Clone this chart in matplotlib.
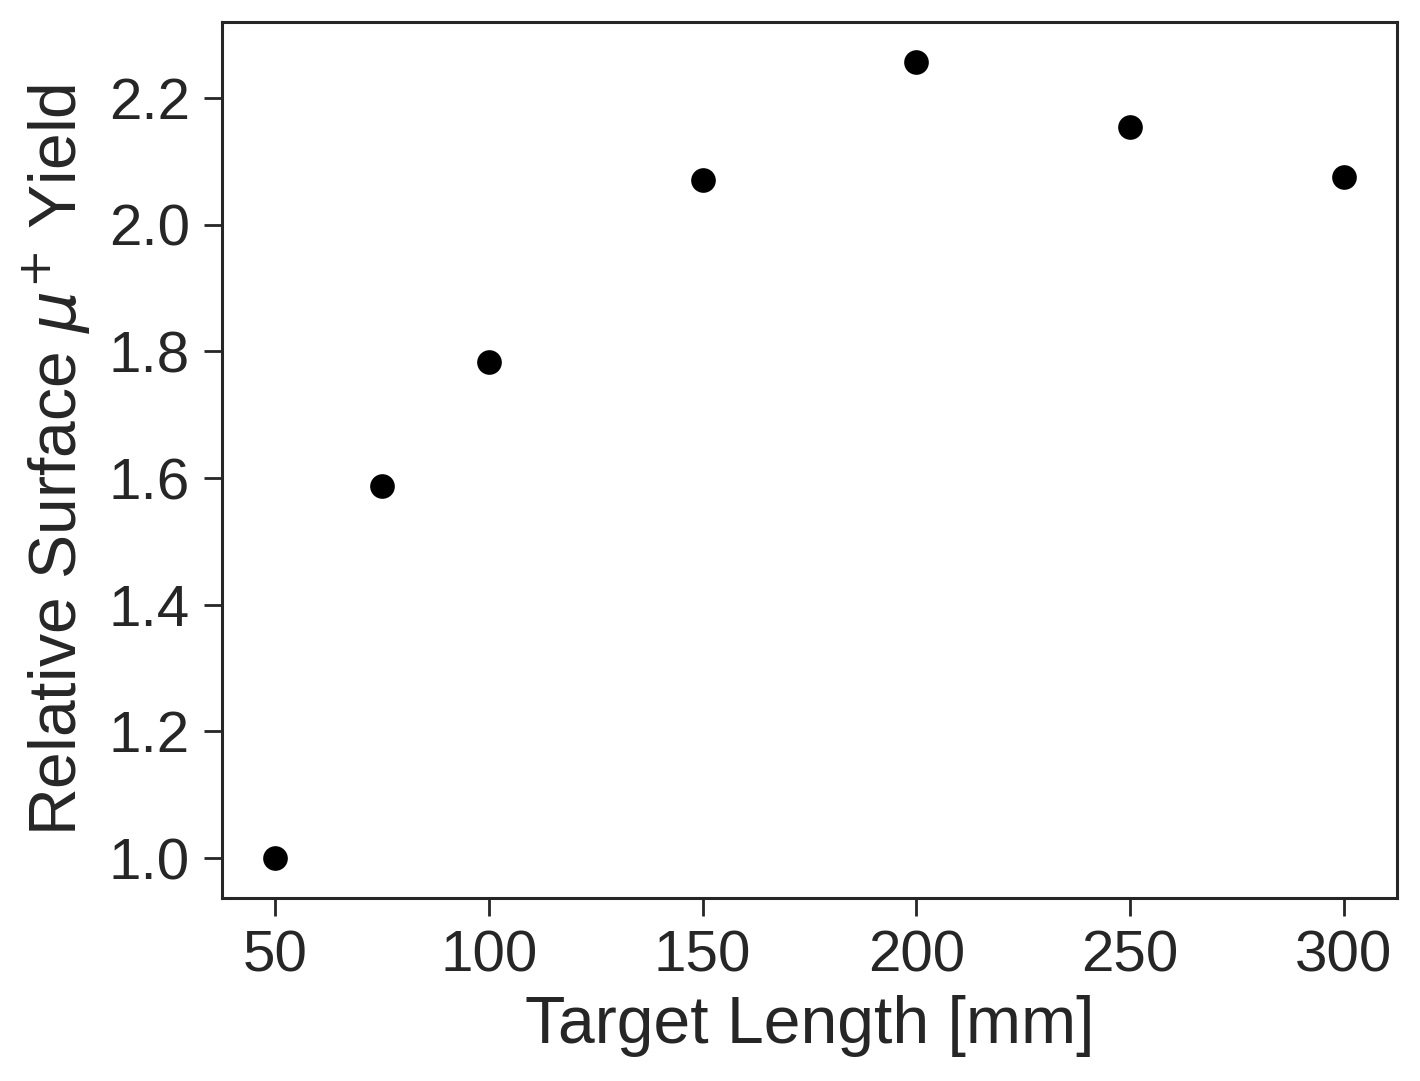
import matplotlib
matplotlib.use('Agg')
import matplotlib.pyplot as plt
import seaborn as sns

# target length [mm] vs relative surface muon yield
target_length = [50, 75, 100, 150, 200, 250, 300]
relative_yield = [1.000, 1.588, 1.784, 2.070, 2.257, 2.154, 2.075]

sns.set_style('ticks')
plt.rcParams['font.family'] = ['Liberation Sans', 'DejaVu Sans']
plt.rcParams['mathtext.fontset'] = 'dejavusans'

fig, ax = plt.subplots(figsize=(7.1, 5.405), dpi=200)
fig.subplots_adjust(left=0.1563, right=0.9838, top=0.9796, bottom=0.1693)

ax.scatter(target_length, relative_yield, s=62, color='black', zorder=3)

ax.set_xlabel('Target Length [mm]', fontsize=23.8, color='#262626', labelpad=4)
ax.set_ylabel(r'Relative Surface $\mu^{+}$ Yield', fontsize=23.8, color='#262626', labelpad=5.5)

ax.set_xticks([50, 100, 150, 200, 250, 300])
ax.set_yticks([1.0, 1.2, 1.4, 1.6, 1.8, 2.0, 2.2])
ax.tick_params(axis='both', labelsize=21, colors='#262626', length=6.5, width=1.0, pad=5)
for sp in ax.spines.values():
    sp.set_linewidth(1.1)
    sp.set_color('#262626')

fig.savefig('out.png', dpi=200)
plt.close(fig)
